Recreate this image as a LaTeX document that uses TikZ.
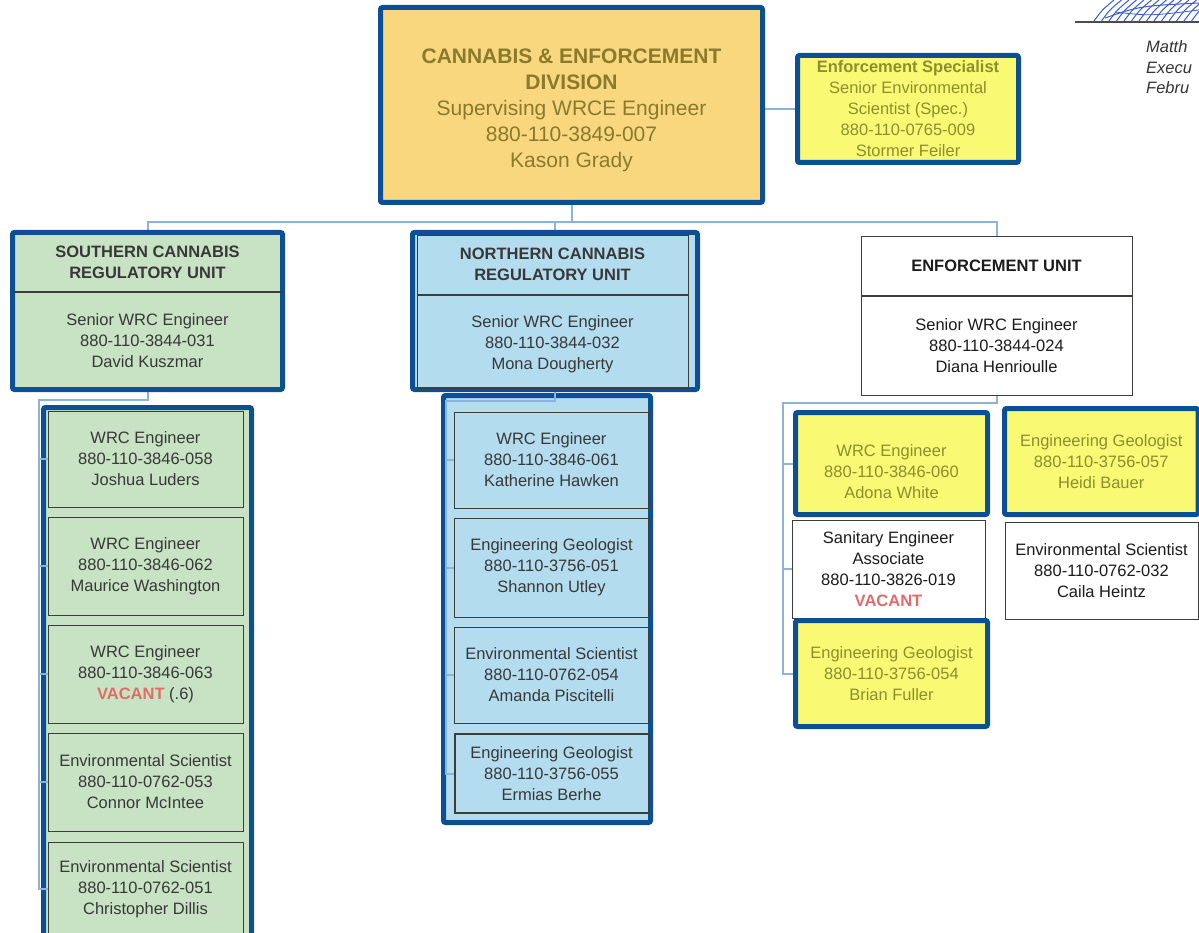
\documentclass[tikz,border=0pt]{standalone}
\usepackage{fontspec}
\setmainfont{Liberation Sans}
\usetikzlibrary{calc}
\definecolor{bdr}{HTML}{0C4F94}
\definecolor{lineblue}{HTML}{8DB2DC}
\definecolor{topfill}{HTML}{F9D77F}
\definecolor{toptext}{HTML}{8A7A2C}
\definecolor{yel}{HTML}{F9F974}
\definecolor{yeltext}{HTML}{8E8E2E}
\definecolor{grn}{HTML}{C8E3C4}
\definecolor{blu}{HTML}{B4DCEF}
\definecolor{textdk}{HTML}{383838}
\definecolor{textbk}{HTML}{1C1C1C}
\definecolor{vac}{HTML}{E46A6A}
\definecolor{thinln}{HTML}{3A3F3A}
\definecolor{sigblue}{HTML}{3B5BD0}
\pgfdeclarelayer{bg}
\pgfdeclarelayer{mid}
\pgfsetlayers{bg,mid,main}
\begin{document}
\begin{tikzpicture}[x=1pt,y=-1pt,
  every node/.style={inner sep=0pt, align=center, font=\fontsize{16.5}{21}\selectfont, text=textdk},
  thickbox/.style={draw=bdr, line width=5pt, rounded corners=2pt},
  thinbox/.style={draw=thinln, line width=1pt},
  link/.style={draw=lineblue, line width=2pt},
  sep/.style={draw=thinln, line width=1.2pt}]
\useasboundingbox (0,0) rectangle (1199,933);

% signature area
\draw[line width=1.5pt, black!70] (1075,22) -- (1199,22);
\foreach \k in {0,...,13}{
  \draw[sigblue, line width=1pt] (1094+\k*7.5,21) .. controls (1102+\k*7.5,10) .. (1114+\k*7.5,0);
}
\draw[sigblue, line width=1pt] (1105,18) .. controls (1140,6) .. (1199,3);
\draw[sigblue, line width=0.8pt] (1115,12) .. controls (1150,16) .. (1199,10);
\node[anchor=west, text=black!80, font=\fontsize{16.5}{20}\selectfont\itshape] (sig1) at (1146,47) {Matth};
\node[anchor=west, text=black!80, font=\fontsize{16.5}{20}\selectfont\itshape] (sig2) at (1146,68) {Execu};
\node[anchor=west, text=black!80, font=\fontsize{16.5}{20}\selectfont\itshape] (sig3) at (1146,88) {Febru};

% top box
\node[thickbox, fill=topfill, minimum width=382pt, minimum height=195pt] (top) at (571.5,105) {};
\node[text=toptext, font=\fontsize{21}{26}\selectfont] (topT) at (571.5,110)
  {\textbf{CANNABIS \& ENFORCEMENT}\\\textbf{DIVISION}\\Supervising WRCE Engineer\\880-110-3849-007\\Kason Grady};

\node[thickbox, fill=yel, minimum width=221pt, minimum height=107pt, text=yeltext] (spec) at (908,109)
  {\textbf{Enforcement Specialist}\\Senior Environmental\\Scientist (Spec.)\\880-110-0765-009\\Stormer Feiler};

% columns (background)
\begin{pgfonlayer}{bg}
\node[thickbox, fill=grn, minimum width=208pt, minimum height=537.5pt] (scol) at (147.5,676.25) {};
\node[thickbox, fill=blu, minimum width=207pt, minimum height=427pt] (ncol) at (547,609) {};
\end{pgfonlayer}

% unit boxes
\node[thickbox, fill=grn, minimum width=270pt, minimum height=157pt] (south) at (147.5,311) {};
\draw[sep] (12.5,292) -- (282.5,292);
\node (southH) at (147.5,262) {\textbf{SOUTHERN CANNABIS}\\\textbf{REGULATORY UNIT}};
\node (southB) at (147.5,341) {Senior WRC Engineer\\880-110-3844-031\\David Kuszmar};

\node[thickbox, fill=blu, minimum width=285pt, minimum height=157pt] (north) at (555,311) {};
\draw[thinbox] (417,236) rectangle (688,388);
\draw[sep] (417,295) -- (688,295);
\node (northH) at (552.5,264) {\textbf{NORTHERN CANNABIS}\\\textbf{REGULATORY UNIT}};
\node (northB) at (552.5,344) {Senior WRC Engineer\\880-110-3844-032\\Mona Dougherty};

\node[thinbox, fill=white, minimum width=271pt, minimum height=158pt] (enf) at (996.5,316) {};
\draw[sep] (861,296) -- (1132,296);
\node[text=textbk] (enfH) at (996.5,266) {\textbf{ENFORCEMENT UNIT}};
\node[text=textbk] (enfB) at (996.5,346) {Senior WRC Engineer\\880-110-3844-024\\Diana Henrioulle};

% southern staff
\node[thinbox, fill=grn, minimum width=195pt, minimum height=96pt] (s1) at (145.5,459) {WRC Engineer\\880-110-3846-058\\Joshua Luders};
\node[thinbox, fill=grn, minimum width=195pt, minimum height=98pt] (s2) at (145.5,566) {WRC Engineer\\880-110-3846-062\\Maurice Washington};
\node[thinbox, fill=grn, minimum width=195pt, minimum height=98pt] (s3) at (145.5,674) {WRC Engineer\\880-110-3846-063\\\textcolor{vac}{\textbf{VACANT}} (.6)};
\node[thinbox, fill=grn, minimum width=195pt, minimum height=98pt] (s4) at (145.5,782) {Environmental Scientist\\880-110-0762-053\\Connor McIntee};
\node[thinbox, fill=grn, minimum width=195pt, minimum height=94pt] (s5) at (145.5,889) {Environmental Scientist\\880-110-0762-051\\Christopher Dillis};

% northern staff
\node[thinbox, fill=blu, minimum width=194pt, minimum height=96pt] (n1) at (551.5,460) {WRC Engineer\\880-110-3846-061\\Katherine Hawken};
\node[thinbox, fill=blu, minimum width=194pt, minimum height=99pt] (n2) at (551.5,567.5) {Engineering Geologist\\880-110-3756-051\\Shannon Utley};
\node[thinbox, fill=blu, minimum width=194pt, minimum height=96pt] (n3) at (551.5,675) {Environmental Scientist\\880-110-0762-054\\Amanda Piscitelli};
\node[draw=thinln, line width=2pt, fill=blu, minimum width=194pt, minimum height=79pt] (n4) at (551.5,773.5) {Engineering Geologist\\880-110-3756-055\\Ermias Berhe};

% enforcement staff
\node[thickbox, fill=yel, minimum width=192pt, minimum height=102pt] (adona) at (891.5,463.5) {};
\node[text=yeltext] (adonaT) at (891.5,471.5) {WRC Engineer\\880-110-3846-060\\Adona White};
\node[thickbox, fill=yel, minimum width=193.5pt, minimum height=106pt, text=yeltext] (heidi) at (1101.25,461.5) {Engineering Geologist\\880-110-3756-057\\Heidi Bauer};
\node[thinbox, fill=white, minimum width=193pt, minimum height=98pt, text=textbk] (sanit) at (888.5,569) {Sanitary Engineer\\Associate\\880-110-3826-019\\\textcolor{vac}{\textbf{VACANT}}};
\node[thinbox, fill=white, minimum width=193pt, minimum height=97pt, text=textbk] (caila) at (1101.5,570.5) {Environmental Scientist\\880-110-0762-032\\Caila Heintz};
\node[thickbox, fill=yel, minimum width=192pt, minimum height=106pt, text=yeltext] (brian) at (891.5,673.5) {Engineering Geologist\\880-110-3756-054\\Brian Fuller};

% connectors
\coordinate (bus) at (571.5,222);
\coordinate (sj) at (39,400);
\coordinate (nj) at (446,401);
\coordinate (ej) at (783,403);
\begin{pgfonlayer}{mid}
\draw[link] (top.east |- spec.west) -- (spec.west);
\draw[link] (top.south) -- (bus);
\draw[link] (south.north) -- (south.north |- bus) -- (enf.north |- bus) -- (enf.north);
\draw[link] (north.north) -- (north.north |- bus);
% southern
\draw[link] (south.south) -- (south.south |- sj) -- (sj) -- (sj |- s5.west) -- (s5.west);
\foreach \b in {s1,s2,s3,s4}{\draw[link] (sj |- \b.west) -- (\b.west);}
% northern
\draw[link] (north.south) -- (north.south |- nj) -- (nj) -- (nj |- n4.west) -- (n4.west);
\foreach \b in {n1,n2,n3}{\draw[link] (nj |- \b.west) -- (\b.west);}
% enforcement
\draw[link] (enf.south) -- (enf.south |- ej) -- (ej) -- (ej |- brian.west) -- (brian.west);
\foreach \b in {adona,sanit}{\draw[link] (ej |- \b.west) -- (\b.west);}
\end{pgfonlayer}
\end{tikzpicture}
\end{document}
